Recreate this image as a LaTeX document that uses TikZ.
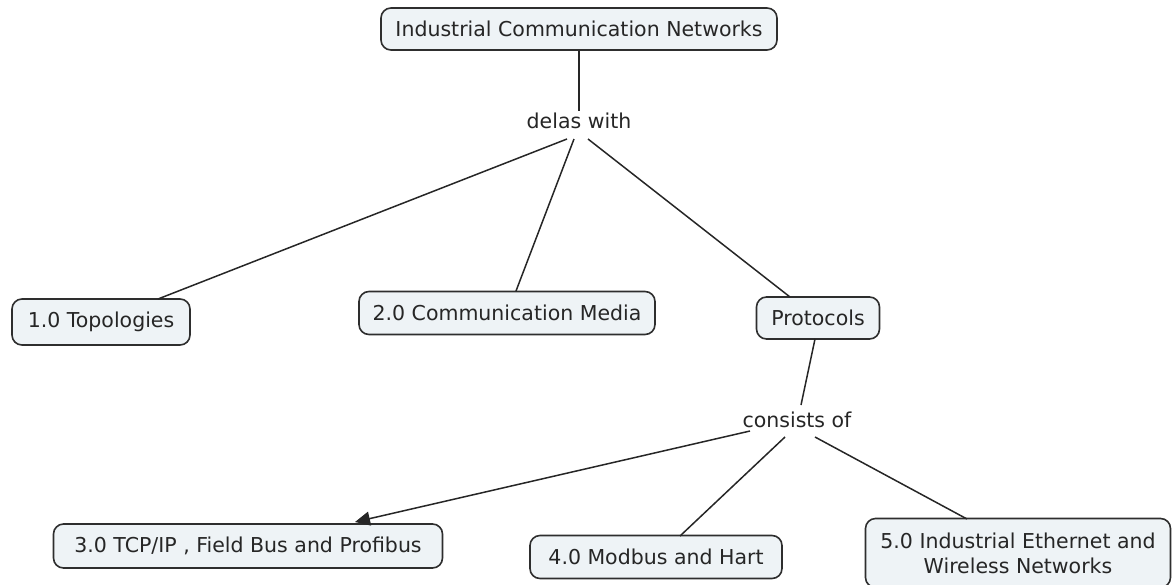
\documentclass[tikz,border=0pt]{standalone}
\usepackage{fontspec}
\setmainfont{DejaVu Sans}
\usetikzlibrary{arrows.meta}
\definecolor{boxfill}{HTML}{EEF3F6}
\definecolor{boxline}{HTML}{2E2E2E}
\tikzset{
  concept/.style={draw=boxline, fill=boxfill, line width=1.6pt, rounded corners=10pt,
    inner sep=0pt, align=center, font=\fontsize{20.5}{25}\selectfont, text=black!85},
  linker/.style={inner sep=2pt, font=\fontsize{20.5}{24}\selectfont, text=black!85, fill=white},
  conn/.style={line width=1.5pt, draw=black!85},
}
\begin{document}
\begin{tikzpicture}[x=1pt,y=-1pt]
\useasboundingbox (0,0) rectangle (1172,584);
\clip (0,0) rectangle (1172,584);
\node[concept, minimum width=396pt, minimum height=42pt] (icn) at (579,29) {Industrial Communication Networks};
\node[linker] (dw) at (579,121) {delas with};
\node[concept, minimum width=178pt, minimum height=46pt] (top) at (101,322) {1.0 Topologies};
\node[concept, minimum width=296pt, minimum height=43pt] (med) at (507,313) {2.0 Communication Media};
\node[concept, minimum width=123pt, minimum height=42pt] (pro) at (818,318) {Protocols};
\node[linker] (co) at (797,420) {consists of};
\node[concept, minimum width=389pt, minimum height=44pt] (tcp) at (248,546) {3.0 TCP/IP , Field Bus and Profibus};
\node[concept, minimum width=252pt, minimum height=43pt] (mod) at (656,557) {4.0 Modbus and Hart};
\node[concept, minimum width=305pt, minimum height=69pt] (eth) at (1018,553) {5.0 Industrial Ethernet and\\Wireless Networks};
\coordinate (dwa) at (567,139);
\coordinate (dwb) at (574,139);
\coordinate (dwc) at (588,139);
\coordinate (topin) at (158,299);
\coordinate (medin) at (516,291);
\coordinate (proin) at (790,297);
\coordinate (proout) at (815,339);
\coordinate (coin) at (801,405);
\coordinate (coa) at (750,431);
\coordinate (cob) at (785,437);
\coordinate (coc) at (815,437);
\coordinate (tcpin) at (355,522);
\coordinate (modin) at (680,536);
\coordinate (ethin) at (967,519);
\draw[conn] (icn) -- (dw);
\draw[conn] (dwa) -- (topin);
\draw[conn] (dwb) -- (medin);
\draw[conn] (dwc) -- (proin);
\draw[conn] (proout) -- (coin);
\draw[conn, -{Triangle[length=15pt,width=14pt]}] (coa) -- (tcpin);
\draw[conn] (cob) -- (modin);
\draw[conn] (coc) -- (ethin);
\end{tikzpicture}
\end{document}
